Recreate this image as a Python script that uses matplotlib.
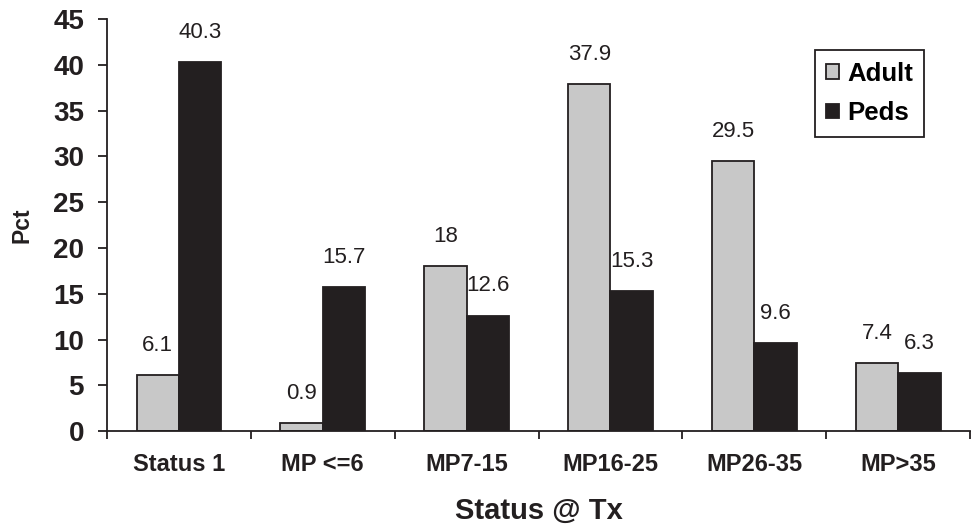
import matplotlib.pyplot as plt
import numpy as np

plt.rcParams['font.family'] = ['Liberation Sans', 'DejaVu Sans']

categories = ['Status 1', 'MP <=6', 'MP7-15', 'MP16-25', 'MP26-35', 'MP>35']
adult = [6.1, 0.9, 18, 37.9, 29.5, 7.4]
peds = [40.3, 15.7, 12.6, 15.3, 9.6, 6.3]

x = np.arange(len(categories))
w = 0.295
ink = '#231f20'

fig = plt.figure(figsize=(9.73, 5.31), dpi=100)
ax = fig.add_axes([0.110, 0.188, 0.887, 0.776])

b1 = ax.bar(x - w / 2, adult, w, color='#c8c8c8', edgecolor=ink, linewidth=1.3, label='Adult')
b2 = ax.bar(x + w / 2, peds, w, color=ink, edgecolor=ink, linewidth=1.3, label='Peds')

# value above each bar
for bars, vals in ((b1, adult), (b2, peds)):
    for rect, v in zip(bars, vals):
        ax.annotate(f'{v:g}', (rect.get_x() + rect.get_width() / 2, v),
                    xytext=(0, 21.5), textcoords='offset points',
                    ha='center', va='center', fontsize=16, color=ink)

ax.set_xlim(-0.5, len(categories) - 0.5)
ax.set_ylim(0, 45)
ax.set_yticks(range(0, 46, 5))
# ticks sit between groups, names go on minor ticks at group centres
ax.set_xticks(np.arange(-0.5, len(categories), 1.0))
ax.set_xticklabels([])
ax.set_xticks(x, minor=True)
ax.set_xticklabels(categories, minor=True, fontsize=17, fontweight='bold', color=ink)
ax.tick_params(axis='x', which='minor', length=0, pad=16)
ax.tick_params(axis='x', which='major', length=5.5, width=1.3, color=ink)
ax.tick_params(axis='y', length=6.5, width=1.3, color=ink, labelsize=20, labelcolor=ink, pad=10)
for t in ax.get_yticklabels():
    t.set_fontweight('bold')

for side in ('top', 'right'):
    ax.spines[side].set_visible(False)
for side in ('left', 'bottom'):
    ax.spines[side].set_linewidth(1.3)
    ax.spines[side].set_color(ink)

ax.set_ylabel('Pct', fontsize=16.5, fontweight='bold', color=ink, labelpad=14)
ax.set_xlabel('Status @ Tx', fontsize=21, fontweight='bold', color=ink, labelpad=15)

leg = ax.legend(loc='upper right', bbox_to_anchor=(0.947, 0.925),
                prop={'weight': 'bold', 'size': 18.5}, fancybox=False, framealpha=1,
                handlelength=0.5, handleheight=0.5, handletextpad=0.3,
                labelspacing=0.6, borderpad=0.45, borderaxespad=0)
leg.get_frame().set_edgecolor(ink)
leg.get_frame().set_linewidth(1.3)

fig.savefig('out.png', dpi=100)
